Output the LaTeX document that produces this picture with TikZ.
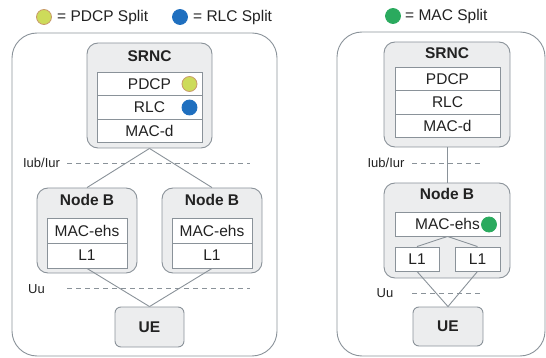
\documentclass[tikz,border=0pt]{standalone}
\usepackage{fontspec}
\setmainfont{Liberation Sans}
\definecolor{lgray}{HTML}{8A9299}
\definecolor{bgray}{HTML}{ECEDEE}
\definecolor{txt}{HTML}{222222}
\definecolor{ylw}{HTML}{CDDB5A}
\definecolor{ylwb}{HTML}{C99A6A}
\definecolor{blu}{HTML}{1F6FBF}
\definecolor{grn}{HTML}{2AAA5E}
\tikzset{
  panel/.style={draw=lgray,line width=0.9pt,rounded corners=25pt,inner sep=0pt},
  group/.style={draw=lgray,line width=0.9pt,fill=bgray,rounded corners=11pt,inner sep=0pt},
  uebox/.style={draw=lgray,line width=0.9pt,fill=bgray,rounded corners=6pt,inner sep=0pt,
    font=\fontsize{15.5}{18}\selectfont\bfseries,text=txt},
  layer/.style={draw=lgray,line width=0.9pt,fill=white,inner sep=0pt,
    font=\fontsize{15.5}{18}\selectfont,text=txt},
  title/.style={font=\fontsize{15.5}{18}\selectfont\bfseries,text=txt,inner sep=0pt},
  lbl/.style={font=\fontsize{13}{15}\selectfont,text=txt,inner sep=0pt},
  legend/.style={font=\fontsize{15.5}{18}\selectfont,text=txt,inner sep=0pt,anchor=west},
  conn/.style={draw=lgray,line width=0.9pt},
  iface/.style={draw=lgray,line width=0.9pt,dash pattern=on 5pt off 4pt},
  dot/.style={circle,minimum size=15pt,inner sep=0pt,line width=0.8pt},
}
\begin{document}
\begin{tikzpicture}[x=1pt,y=-1pt]
\useasboundingbox (0,0) rectangle (546,358);
% legend
\node[dot,fill=ylw,draw=ylwb] (ly) at (44,17) {};
\node[legend] (lyt) at (57,17) {= PDCP Split};
\node[dot,fill=blu,draw=blu] (lb) at (180,17) {};
\node[legend] (lbt) at (193,17) {= RLC Split};
\node[dot,fill=grn,draw=grn] (lg) at (393,16) {};
\node[legend] (lgt) at (405,16) {= MAC Split};

% ---------- left panel ----------
\node[panel,minimum width=265pt,minimum height=323pt] (outL) at (144.5,194.5) {};
\node[group,minimum width=125pt,minimum height=105pt] (srncL) at (149.5,95.5) {};
\node[title] (srncLt) at (149.5,56) {SRNC};
\node[layer,minimum width=105pt,minimum height=23.7pt] (pdcpL) at (149.5,84) {PDCP};
\node[layer,minimum width=105pt,minimum height=23.7pt] (rlcL) at (149.5,107.5) {RLC};
\node[layer,minimum width=105pt,minimum height=23.7pt] (macdL) at (149.5,131) {MAC-d};
\node[dot,fill=ylw,draw=ylwb] (dy) at (189.5,84) {};
\node[dot,fill=blu,draw=blu] (db) at (189.5,107.5) {};

\node[group,minimum width=100pt,minimum height=85pt] (nbA) at (87,230.5) {};
\node[title] (nbAt) at (87,200) {Node B};
\node[layer,minimum width=80pt,minimum height=25pt] (macA) at (87,230.5) {MAC-ehs};
\node[layer,minimum width=80pt,minimum height=25pt] (l1A) at (87,255.5) {L1};

\node[group,minimum width=100pt,minimum height=85pt] (nbB) at (212,230.5) {};
\node[title] (nbBt) at (212,200) {Node B};
\node[layer,minimum width=80pt,minimum height=25pt] (macB) at (212,230.5) {MAC-ehs};
\node[layer,minimum width=80pt,minimum height=25pt] (l1B) at (212,255.5) {L1};

\node[uebox,minimum width=69pt,minimum height=40pt] (ueL) at (149.5,327) {UE};

\node[lbl] (iubL) at (41.5,163) {Iub/Iur};
\coordinate (iubLa) at (67,163);
\coordinate (iubLb) at (250,163);
\draw[iface] (iubLa) -- (iubLb);
\node[lbl] (uuL) at (36.5,289) {Uu};
\coordinate (uuLa) at (67,288);
\coordinate (uuLb) at (250,288);
\draw[iface] (uuLa) -- (uuLb);

\draw[conn] (srncL.south) -- (nbA.north);
\draw[conn] (srncL.south) -- (nbB.north);
\draw[conn] (l1A.south) -- (ueL.north);
\draw[conn] (l1B.south) -- (ueL.north);

% ---------- right panel ----------
\node[panel,minimum width=208pt,minimum height=324pt] (outR) at (441,194) {};
\node[group,minimum width=126pt,minimum height=105pt] (srncR) at (447,94.5) {};
\node[title] (srncRt) at (447,53.5) {SRNC};
\node[layer,minimum width=105pt,minimum height=23.4pt] (pdcpR) at (447.5,79) {PDCP};
\node[layer,minimum width=105pt,minimum height=23.4pt] (rlcR) at (447.5,102.4) {RLC};
\node[layer,minimum width=105pt,minimum height=23.4pt] (macdR) at (447.5,125.8) {MAC-d};

\node[group,minimum width=126pt,minimum height=95pt] (nbR) at (447,230.5) {};
\node[title] (nbRt) at (447,194) {Node B};
\node[layer,minimum width=105pt,minimum height=24pt] (macR) at (447.5,224) {MAC-ehs};
\node[dot,fill=grn,draw=grn] (dg) at (489,224.5) {};
\node[layer,minimum width=44pt,minimum height=24pt] (l1Ra) at (417,259) {L1};
\node[layer,minimum width=45pt,minimum height=24pt] (l1Rb) at (477.5,259) {L1};

\node[uebox,minimum width=70pt,minimum height=39pt] (ueR) at (448,326.5) {UE};

\node[lbl] (iubR) at (386,163) {Iub/Iur};
\coordinate (iubRa) at (412,163);
\coordinate (iubRb) at (480,163);
\draw[iface] (iubRa) -- (iubRb);
\node[lbl] (uuR) at (385,293) {Uu};
\coordinate (uuRa) at (412,293);
\coordinate (uuRb) at (480,293);
\draw[iface] (uuRa) -- (uuRb);

\draw[conn] (srncR.south) -- (nbR.north);
\draw[conn] (macR.south) -- (l1Ra.north);
\draw[conn] (macR.south) -- (l1Rb.north);
\draw[conn] (l1Ra.south) -- (ueR.north);
\draw[conn] (l1Rb.south) -- (ueR.north);
\end{tikzpicture}
\end{document}
